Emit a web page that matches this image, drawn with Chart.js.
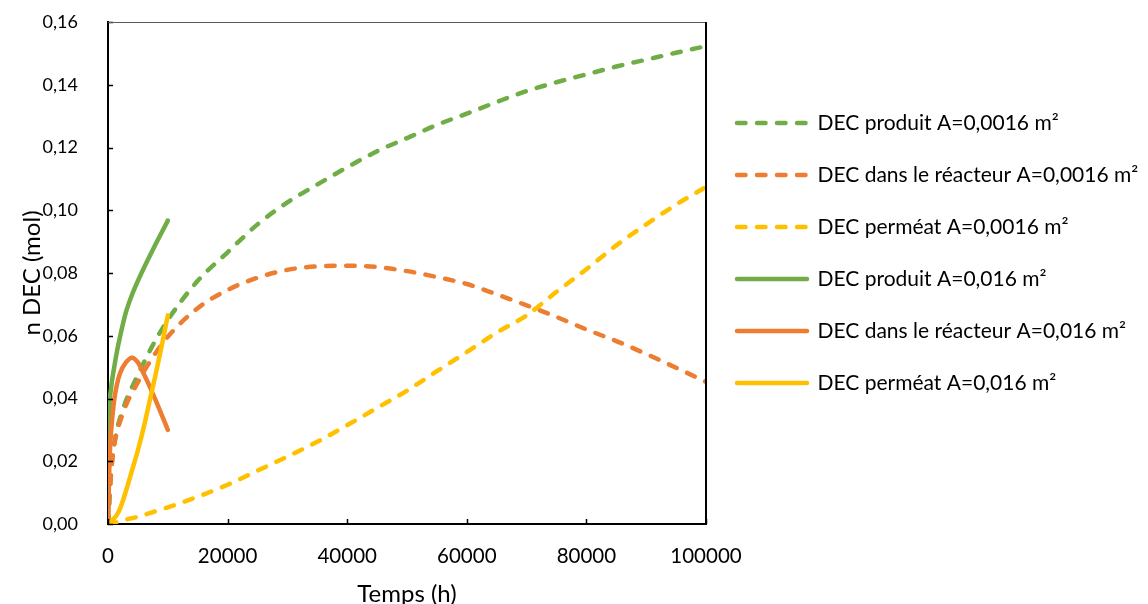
<!DOCTYPE html>
<html>
<head>
<meta charset="utf-8">
<script src="https://cdn.jsdelivr.net/npm/chart.js@4/dist/chart.umd.min.js"></script>
<style>
  html, body { margin: 0; padding: 0; background: #fff; overflow: hidden; }
  #box { width: 1148px; height: 620px; }
</style>
</head>
<body>
<div id="box"><canvas id="grafico"></canvas></div>
<script>
// temps (h)
const tempsLong = [0, 500, 1000, 2500, 5000, 7500, 10000, 15000, 20000, 25000, 30000, 35000, 40000,
  45000, 50000, 55000, 60000, 65000, 70000, 75000, 80000, 85000, 90000, 95000, 100000];
const tempsCourt = [0, 250, 500, 1000, 1500, 2000, 3000, 4000, 5000, 6000, 7000, 8000, 9000, 10000];

// A = 0,0016 m²
const produitPetit = [0, 0.016, 0.025, 0.0365, 0.0475, 0.057, 0.065, 0.0775, 0.0866, 0.0955, 0.1025, 0.1082, 0.1137,
  0.1188, 0.1230, 0.1272, 0.1308, 0.1345, 0.1380, 0.1408, 0.1433, 0.1458, 0.1480, 0.1502, 0.1523];
const reacteurPetit = [0, 0.016, 0.0245, 0.0353, 0.0452, 0.0532, 0.0597, 0.0688, 0.0746, 0.0785, 0.081, 0.0821, 0.0823,
  0.0819, 0.0806, 0.0787, 0.0765, 0.0732, 0.0697, 0.0660, 0.0620, 0.0583, 0.0542, 0.0498, 0.0453];
const permeatPetit = [0, 0.0001, 0.0003, 0.0012, 0.0023, 0.0038, 0.0053, 0.0087, 0.0125, 0.017, 0.0215, 0.0262, 0.0315,
  0.037, 0.0425, 0.0487, 0.0548, 0.061, 0.0665, 0.074, 0.0812, 0.0888, 0.0955, 0.1018, 0.1074];

// A = 0,016 m²
const produitGrand = [0, 0.036, 0.043, 0.0495, 0.055, 0.0596, 0.0675, 0.073, 0.0775, 0.0816, 0.0855, 0.0893, 0.093, 0.0967];
const reacteurGrand = [0, 0.02, 0.029, 0.039, 0.0445, 0.048, 0.0515, 0.053, 0.0515, 0.0478, 0.0437, 0.0393, 0.0347, 0.030];
const permeatGrand = [0, 0.0003, 0.0007, 0.0018, 0.003, 0.0048, 0.0105, 0.017, 0.0235, 0.031, 0.0395, 0.048, 0.057, 0.0665];

const yTicks = [0, 0.02, 0.04, 0.06, 0.08, 0.10, 0.12, 0.14, 0.16];
const xTicks = [0, 20000, 40000, 60000, 80000, 100000];

const vert = '#70AD47';
const orange = '#ED7D31';
const jaune = '#FFC000';

const points = (t, v) => t.map((x, i) => ({ x: x, y: v[i] }));

function serie(label, t, v, couleur, pointille) {
  return {
    label: label,
    data: points(t, v),
    borderColor: couleur,
    backgroundColor: couleur,
    borderWidth: 4.5,
    borderDash: pointille ? [8.5, 11.5] : [],
    borderCapStyle: 'round',
    pointRadius: 0,
    pointStyle: 'line',
    cubicInterpolationMode: 'monotone',
    fill: false
  };
}

const datasets = [
  serie('DEC produit A=0,0016 m²', tempsLong, produitPetit, vert, true),
  serie('DEC dans le réacteur A=0,0016 m²', tempsLong, reacteurPetit, orange, true),
  serie('DEC perméat A=0,0016 m²', tempsLong, permeatPetit, jaune, true),
  serie('DEC produit A=0,016 m²', tempsCourt, produitGrand, vert, false),
  serie('DEC dans le réacteur A=0,016 m²', tempsCourt, reacteurGrand, orange, false),
  serie('DEC perméat A=0,016 m²', tempsCourt, permeatGrand, jaune, false)
];
// la dernière série passe au-dessus, comme dans Excel
datasets.forEach((d, i) => { d.order = datasets.length - i; });

// petites graduations vers l'intérieur + cadre haut/droite
const cadre = {
  id: 'cadre',
  afterDatasetsDraw(chart) {
    const { ctx, chartArea: a, scales: { x, y } } = chart;
    ctx.save();
    ctx.strokeStyle = '#000';
    ctx.lineWidth = 1.5;
    ctx.beginPath();
    xTicks.forEach(v => {
      const px = Math.round(x.getPixelForValue(v)) + 0.5;
      ctx.moveTo(px, a.bottom); ctx.lineTo(px, a.bottom - 5);
    });
    yTicks.forEach(v => {
      const py = Math.round(y.getPixelForValue(v)) + 0.5;
      ctx.moveTo(a.left, py); ctx.lineTo(a.left + 5, py);
    });
    ctx.stroke();
    ctx.strokeStyle = '#595959';
    ctx.lineWidth = 1;
    ctx.beginPath();
    ctx.moveTo(a.left, a.top + 0.5); ctx.lineTo(a.right, a.top + 0.5);
    ctx.stroke();
    ctx.strokeStyle = '#000';
    ctx.lineWidth = 2;
    ctx.beginPath();
    ctx.moveTo(a.right, a.top); ctx.lineTo(a.right, a.bottom);
    ctx.stroke();
    ctx.restore();
  }
};

Chart.defaults.font.family = 'Lato';
Chart.defaults.color = '#000';

const legendeDefaut = Chart.defaults.plugins.legend.labels.generateLabels;

new Chart(document.getElementById('grafico'), {
  type: 'line',
  data: { datasets: datasets },
  options: {
    responsive: true,
    maintainAspectRatio: false,
    animation: false,
    layout: { padding: { top: 22, left: 0, right: 0, bottom: 0 } },
    scales: {
      x: {
        type: 'linear',
        min: 0,
        max: 100000,
        afterFit: s => { s.height = 96; },
        afterBuildTicks: s => { s.ticks = xTicks.map(v => ({ value: v })); },
        grid: { display: true, drawOnChartArea: false, drawTicks: true, tickLength: 20, color: 'transparent' },
        border: { display: true, color: '#000', width: 2 },
        ticks: {
          padding: 0,
          maxRotation: 0,
          font: { size: 20.5 },
          callback: v => String(v)
        },
        title: {
          display: true,
          text: 'Temps (h)',
          font: { size: 24 },
          padding: { top: 0, bottom: 11 }
        }
      },
      y: {
        min: 0,
        max: 0.16,
        afterFit: s => { s.width = 108; },
        afterBuildTicks: s => { s.ticks = yTicks.map(v => ({ value: v })); },
        grid: { display: true, drawOnChartArea: false, drawTicks: true, tickLength: 30, color: 'transparent' },
        border: { display: true, color: '#000', width: 2 },
        ticks: {
          padding: 0,
          font: { size: 18 },
          callback: v => v.toFixed(2).replace('.', ',')
        },
        title: {
          display: true,
          text: 'n DEC (mol)',
          font: { size: 24 },
          padding: { top: 18, bottom: 0 }
        }
      }
    },
    plugins: {
      legend: {
        position: 'right',
        align: 'start',
        maxWidth: 442,
        title: { display: true, text: ' ', font: { size: 10 }, padding: { top: 47.5, bottom: 0 } },
        labels: {
          usePointStyle: true,
          pointStyleWidth: 70,
          boxWidth: 70,
          padding: 31,
          font: { size: 21 },
          color: '#000',
          sort: (a, b) => a.datasetIndex - b.datasetIndex,
          generateLabels: chart => legendeDefaut(chart).map(item => {
            const ds = chart.data.datasets[item.datasetIndex];
            item.lineDash = ds.borderDash;
            item.lineWidth = ds.borderWidth;
            item.lineCap = ds.borderCapStyle;
            item.strokeStyle = ds.borderColor;
            return item;
          })
        }
      },
      tooltip: { enabled: false }
    }
  },
  plugins: [cadre]
});
</script>
</body>
</html>
